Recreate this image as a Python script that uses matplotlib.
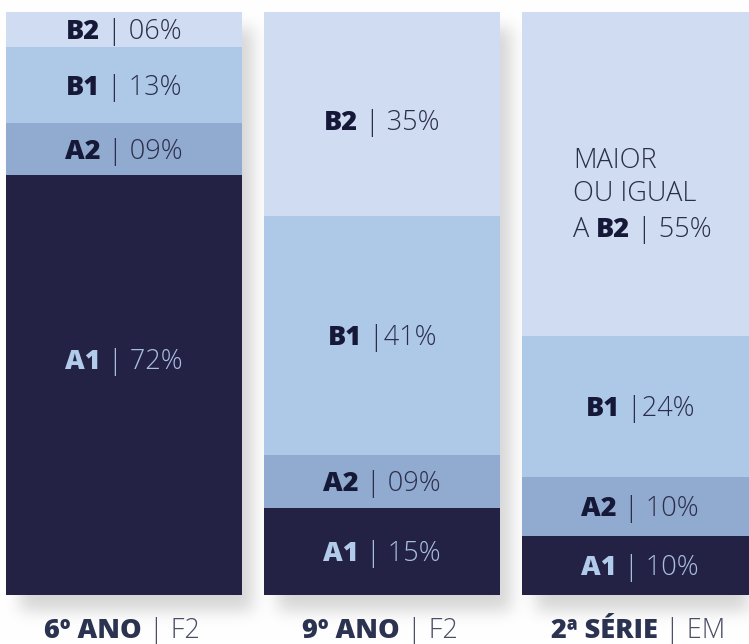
import numpy as np
import matplotlib
matplotlib.use('Agg')
import matplotlib.pyplot as plt
import matplotlib.font_manager as fm
import matplotlib.transforms as mtransforms

# niveis de proficiencia por etapa (%)
grades = ['6º ANO', '9º ANO', '2ª SÉRIE']
stages = ['F2', 'F2', 'EM']
A1 = np.array([72, 15, 10])
A2 = np.array([9, 9, 10])
B1 = np.array([13, 41, 24])
B2 = np.array([6, 35, 55])
b1_sep = [' | ', ' |', ' |']

levels = [('A1', A1), ('A2', A2), ('B1', B1), ('B2', B2)]
colors = {'A1': '#232245', 'A2': '#91aad0', 'B1': '#aec8e8', 'B2': '#cfdcf2'}


def font_file(name):
    for f in fm.fontManager.ttflist:
        if f.fname.endswith(name):
            return f.fname
    return None


light_f = font_file('OpenSans-Light.ttf')
bold_f = font_file('OpenSans-ExtraBold.ttf')
LIGHT = fm.FontProperties(fname=light_f) if light_f else fm.FontProperties(family='DejaVu Sans')
XBOLD = fm.FontProperties(fname=bold_f) if bold_f else fm.FontProperties(family='DejaVu Sans', weight='bold')

W, H = 749, 644
fig = plt.figure(figsize=(W / 100, H / 100), dpi=100)
fig.patch.set_facecolor('white')

# axes: bars from pixel y=12 to y=595
ax_bg = fig.add_axes([0, 0, 1, 1], zorder=0)
ax = fig.add_axes([0, (H - 595) / H, 1, 583 / H], zorder=1)
ax.set_facecolor('none')

x = np.arange(len(grades))
step = 258.0
ax.set_xlim(-124 / step, (W - 124) / step)
ax.set_ylim(0, 100)
width = 236 / step

totals = A1 + A2 + B1 + B2
bottom = np.zeros(len(grades))
segs = {}
for name, vals in levels:
    h = vals / totals * 100
    ax.bar(x, h, width, bottom=bottom, color=colors[name], linewidth=0, zorder=2)
    segs[name] = (bottom.copy(), h)
    bottom = bottom + h

for s in ax.spines.values():
    s.set_visible(False)
ax.set_xticks([])
ax.set_yticks([])

# soft drop shadow under the bars
mask = np.zeros((H, W))
for i in x:
    (x0, y0) = ax.transData.transform((i - width / 2, 0))
    (x1, y1) = ax.transData.transform((i + width / 2, 100))
    r0, r1 = int(H - y1) + 16, int(H - y0) + 16
    c0, c1 = int(x0) + 14, int(x1) + 11
    mask[max(r0, 0):min(r1, H), max(c0, 0):min(c1, W)] = 1.0
sig = 8.0
k = np.arange(-30, 31)
kern = np.exp(-k ** 2 / (2 * sig ** 2))
kern /= kern.sum()
mask = np.apply_along_axis(lambda r: np.convolve(r, kern, mode='same'), 1, mask)
mask = np.apply_along_axis(lambda c: np.convolve(c, kern, mode='same'), 0, mask)
shade = 1 - 0.16 * mask
ax_bg.imshow(np.dstack([shade] * 3), extent=(0, W, 0, H), origin='upper', aspect='auto')
ax_bg.set_xlim(0, W)
ax_bg.set_ylim(0, H)
ax_bg.axis('off')

fig.canvas.draw()
renderer = fig.canvas.get_renderer()


def rich(xv, yv, parts, size, ha='center'):
    # parts: (text, fontprops, color); yv is the cap-centre
    cap = 0.714 * size * 100 / 72
    items = []
    for s, fp, c in parts:
        t = ax.text(xv, yv, s, fontproperties=fp, fontsize=size, color=c,
                    ha='left', va='baseline', clip_on=False, zorder=5)
        w = t.get_window_extent(renderer).width
        items.append((t, w))
    total = sum(w for _, w in items)
    dx = -total / 2 if ha == 'center' else 0.0
    for t, w in items:
        t.set_transform(mtransforms.offset_copy(ax.transData, fig=fig, x=dx, y=-cap / 2, units='dots'))
        dx += w


FS = 19.5
dark_b, dark_l = '#161838', '#2b2e4a'
lite_b, lite_l = '#b3cbea', '#a9bedf'

for i in x:
    for name, vals in levels:
        b, h = segs[name]
        mid = b[i] + h[i] / 2
        cb, cl = (lite_b, lite_l) if name == 'A1' else (dark_b, dark_l)
        sep = b1_sep[i] if name == 'B1' else ' | '
        pct = f'{vals[i]:02d}%'
        if name == 'B2' and i == 2:
            xl = i - 67 / step
            ax.text(xl, mid + 2.3, 'MAIOR', fontproperties=LIGHT, fontsize=FS, color=dark_l,
                    ha='left', va='center', zorder=5)
            ax.text(xl, mid - 3.4, 'OU IGUAL', fontproperties=LIGHT, fontsize=FS, color=dark_l,
                    ha='left', va='center', zorder=5)
            rich(xl, mid - 9.1, [('A ', LIGHT, dark_l), (name, XBOLD, cb), (sep + pct, LIGHT, cl)],
                 FS, ha='left')
            continue
        if name == 'A1' and i == 0:
            mid += 4.5
        if name == 'B2' and i == 1:
            mid -= 1.0
        rich(i, mid, [(name, XBOLD, cb), (sep + pct, LIGHT, cl)], FS)

# category labels under each bar
for i in x:
    rich(i - 2 / step, -5.75, [(grades[i], XBOLD, '#2b3350'), (' | ' + stages[i], LIGHT, '#4a4f66')], 19.5)

fig.savefig('out.png', dpi=100, facecolor='white')
